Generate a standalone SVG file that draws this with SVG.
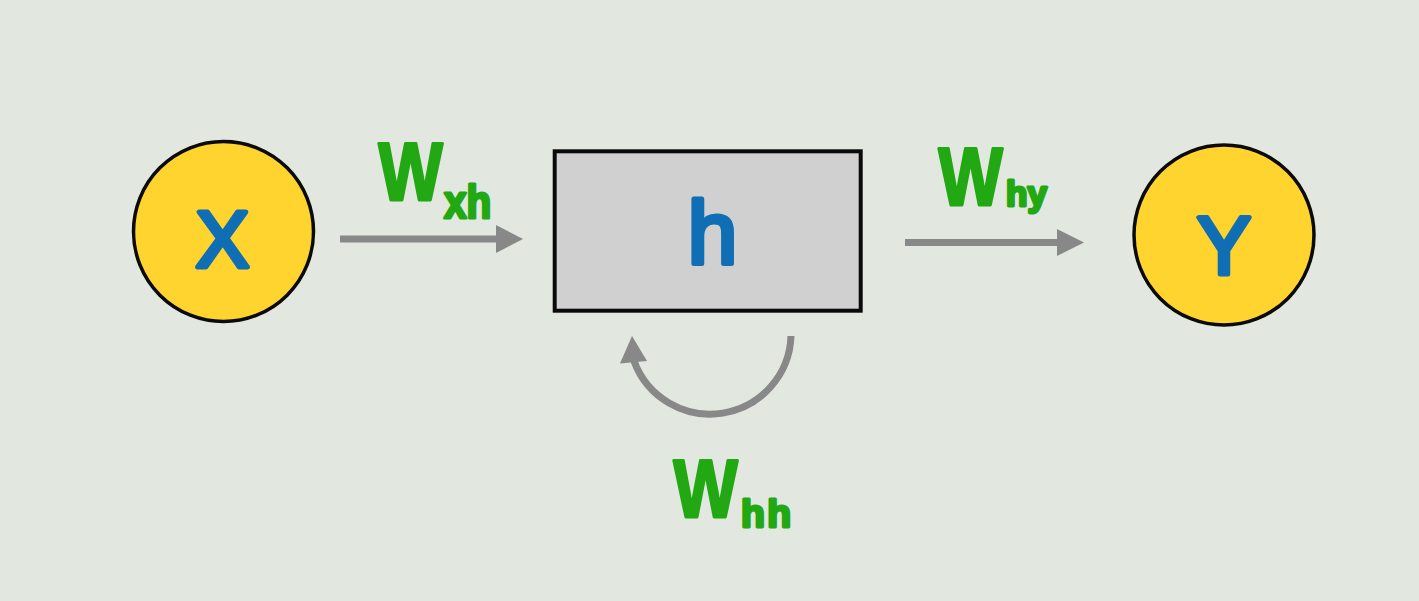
<svg xmlns="http://www.w3.org/2000/svg" width="1419" height="601" viewBox="0 0 1419 601">
<style>
.bg{fill:#E2E7E0}
.node{fill:#FFD42E;stroke:#0A0A0A;stroke-width:3.5}
.box{fill:#D0D0D0;stroke:#0A0A0A;stroke-width:4}
.sym{font-family:"Liberation Sans",Arial,sans-serif;font-weight:normal;fill:#0F6EB4;stroke:#0F6EB4;stroke-width:5;stroke-linejoin:round;text-anchor:middle}
.w{font-family:"Liberation Sans",Arial,sans-serif;font-weight:bold;fill:#22A812;stroke:#22A812;stroke-width:3;stroke-linejoin:round}
.shaft{stroke:#878887;stroke-width:7;fill:none}
.head{fill:#878887}
</style>
<rect class="bg" x="0" y="0" width="1419" height="601"/>
<g id="connectors">
  <line class="shaft" x1="340" y1="239" x2="498" y2="239"/>
  <polygon class="head" points="496,225 523,239 496,253"/>
  <line class="shaft" x1="905" y1="242.5" x2="1059" y2="242.5"/>
  <polygon class="head" points="1057,229 1084,242.5 1057,256"/>
  <path class="shaft" d="M 791 336 A 81 81 0 0 1 634 361"/>
  <polygon class="head" points="632,336 620,363.5 647,361"/>
</g>
<g id="label-wxh">
  <text class="w" transform="translate(378.5 0) scale(0.83 1)" x="0" y="200.5" font-size="82">W</text>
  <text class="w" transform="translate(444 0) scale(0.88 1)" x="0" y="218.5" font-size="46">xh</text>
</g>
<g id="label-why">
  <text class="w" transform="translate(938.5 0) scale(0.83 1)" x="0" y="205.5" font-size="82">W</text>
  <text class="w" x="1006" y="206" font-size="35">hy</text>
</g>
<g id="label-whh">
  <text class="w" transform="translate(673.5 0) scale(0.83 1)" x="0" y="517.5" font-size="82">W</text>
  <text class="w" x="741" y="526.5" font-size="39" letter-spacing="2.5">hh</text>
</g>
<g id="node-x">
  <circle class="node" cx="223.5" cy="231.5" r="90"/>
  <text class="sym" x="222.5" y="266.5" font-size="80">X</text>
</g>
<g id="node-h">
  <rect class="box" x="554.7" y="151.3" width="306" height="159.4"/>
  <text class="sym" x="712.5" y="263.5" font-size="89">h</text>
</g>
<g id="node-y">
  <circle class="node" cx="1224" cy="235" r="90"/>
  <text class="sym" x="1224" y="273.5" font-size="81">Y</text>
</g>
</svg>
